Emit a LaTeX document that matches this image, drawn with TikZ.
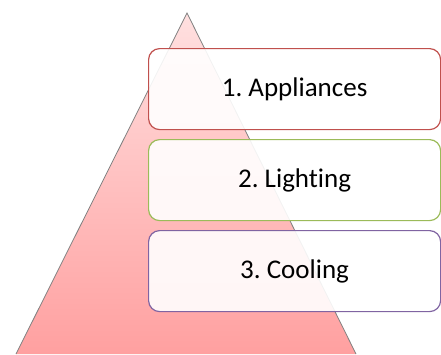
\documentclass[tikz,border=0pt]{standalone}
\usepackage{fontspec}
\setmainfont[Ligatures={NoCommon}]{Carlito}
\frenchspacing
\definecolor{tierred}{RGB}{192,80,77}
\definecolor{tiergreen}{RGB}{155,187,89}
\definecolor{tierpurple}{RGB}{128,100,162}
\definecolor{pinktop}{RGB}{255,224,224}
\definecolor{pinkbottom}{RGB}{255,160,160}
\definecolor{edgegray}{RGB}{128,128,128}
\begin{document}
\begin{tikzpicture}[x=1pt,y=-1pt,
  tier/.style={draw=#1, line width=1.2pt, rounded corners=11pt, fill=white, fill opacity=0.9,
    text opacity=1, minimum width=292pt, minimum height=81pt, inner sep=0pt,
    font=\fontsize{27}{31}\selectfont\frenchspacing, anchor=north west}]
  \useasboundingbox (0,0) rectangle (441,354);
  % pyramid
  \begin{scope}
    \clip (0,0) rectangle (441,354);
    \shade[top color=pinktop, bottom color=pinkbottom]
      (187,13) -- (356,354) -- (16,354) -- cycle;
    \draw[draw=edgegray, line width=0.8pt]
      (16,354) -- (187,13) -- (356,354);
  \end{scope}
  \coordinate (apex) at (187,13);
  % tiers
  \node[tier=tierred] (t1) at (148,48) {1. Appliances};
  \node[tier=tiergreen] (t2) at (148,139) {2. Lighting};
  \node[tier=tierpurple] (t3) at (148,230) {3. Cooling};
\end{tikzpicture}
\end{document}
